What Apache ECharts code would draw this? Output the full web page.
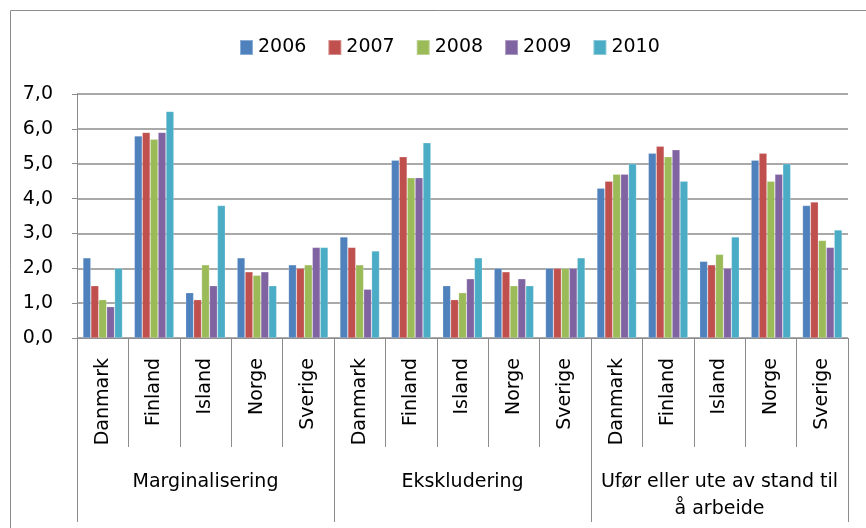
<!DOCTYPE html>
<html>
<head>
<meta charset="utf-8">
<script src="https://cdn.jsdelivr.net/npm/echarts@6/dist/echarts.min.js"></script>
<style>
html,body{margin:0;padding:0;background:#fff;}
#chart{width:866px;height:528px;}
</style>
</head>
<body>
<div id="chart"></div>
<script>
const countries = ["Danmark","Finland","Island","Norge","Sverige"];
const groups = ["Marginalisering","Ekskludering","Ufør eller ute av stand til\nå arbeide"];
const years = ["2006","2007","2008","2009","2010"];
const yTicks = [0,1,2,3,4,5,6,7];

// values per year, order: Marginalisering (DK,FI,IS,NO,SE), Ekskludering (...), Ufør (...)
const v2006 = [2.3,5.8,1.3,2.3,2.1, 2.9,5.1,1.5,2.0,2.0, 4.3,5.3,2.2,5.1,3.8];
const v2007 = [1.5,5.9,1.1,1.9,2.0, 2.6,5.2,1.1,1.9,2.0, 4.5,5.5,2.1,5.3,3.9];
const v2008 = [1.1,5.7,2.1,1.8,2.1, 2.1,4.6,1.3,1.5,2.0, 4.7,5.2,2.4,4.5,2.8];
const v2009 = [0.9,5.9,1.5,1.9,2.6, 1.4,4.6,1.7,1.7,2.0, 4.7,5.4,2.0,4.7,2.6];
const v2010 = [2.0,6.5,3.8,1.5,2.6, 2.5,5.6,2.3,1.5,2.3, 5.0,4.5,2.9,5.0,3.1];

const colors = ["#4F81BD","#C0504D","#9BBB59","#8064A2","#4BACC6"];
const seriesValues = [v2006,v2007,v2008,v2009,v2010];

const categories = [];
groups.forEach(() => countries.forEach(c => categories.push(c)));

const FONT = "DejaVu Sans";
const FS = 19;
const GRAY = "#8c8c8c";

const chart = echarts.init(document.getElementById('chart'), null, {renderer:'canvas'});
chart.setOption({
  animation: false,
  color: colors,
  textStyle: {fontFamily: FONT},
  graphic: [{
    type: 'rect',
    shape: {x: 10.5, y: 10.5, width: 900, height: 600},
    style: {fill: 'none', stroke: GRAY, lineWidth: 1},
    silent: true
  }],
  legend: {
    left: 239, top: 38, padding: 0,
    itemWidth: 13, itemHeight: 15, itemGap: 21,
    icon: 'rect',
    textStyle: {fontFamily: FONT, fontSize: FS, color: '#000'},
    data: years
  },
  grid: {left: 77, right: 18, top: 94, bottom: 190, containLabel: false},
  xAxis: [{
    type: 'category',
    data: categories,
    gridIndex: 0,
    position: 'bottom',
    axisLine: {show: true, lineStyle: {color: GRAY, width: 1}},
    axisTick: {show: true, interval: 0, length: 109, lineStyle: {color: GRAY, width: 1}},
    axisLabel: {interval: 0, rotate: 90, margin: 20, fontSize: FS, color: '#000', fontFamily: FONT}
  }, {
    type: 'category',
    data: groups,
    gridIndex: 0,
    position: 'bottom',
    axisLine: {show: false},
    axisTick: {show: true, interval: 0, length: 184, lineStyle: {color: GRAY, width: 1}},
    axisLabel: {interval: 0, margin: 131, fontSize: FS, lineHeight: 27, color: '#000', fontFamily: FONT, align: 'center'}
  }],
  yAxis: {
    type: 'value',
    min: 0, max: 7, interval: 1,
    axisLine: {show: true, lineStyle: {color: GRAY, width: 1}},
    axisTick: {show: true, length: 5, lineStyle: {color: GRAY}},
    splitLine: {show: true, lineStyle: {color: GRAY, width: 1.5}},
    axisLabel: {
      margin: 24, fontSize: FS, color: '#000', fontFamily: FONT,
      formatter: v => yTicks.indexOf(v) >= 0 ? v.toFixed(1).replace('.', ',') : ''
    }
  },
  series: years.map((y, i) => ({
    name: y,
    type: 'bar',
    xAxisIndex: 0,
    data: seriesValues[i],
    barGap: '0%',
    barCategoryGap: '23%',
    itemStyle: {color: colors[i], borderColor: 'rgba(255,255,255,0.35)', borderWidth: 0.6}
  }))
});
</script>
</body>
</html>
